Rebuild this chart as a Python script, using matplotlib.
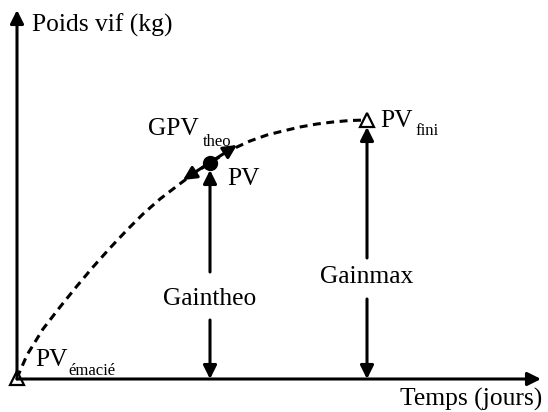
import numpy as np
import matplotlib.pyplot as plt

plt.rcParams['font.family'] = ['Liberation Serif', 'DejaVu Serif']

# --- schematic weight curve (time, live weight) ---
curve_t = [0, 10, 26, 43, 60, 76, 93, 110, 126, 143, 160, 176, 193, 210,
           220, 233, 250, 266, 283, 300, 316, 333, 350]
curve_pv = [1, 24, 50, 72, 93, 112, 131, 149, 165, 180, 193, 205, 216, 227,
            232, 238, 244, 248, 252, 255, 257, 258.5, 259]

t_emacie, pv_emacie = 0, 1
t_pv, pv_pv = 193, 216          # current weight PV
t_fini, pv_fini = 350, 259      # final weight PV_fini
tangent_t = [166, 220]          # GPV_theo tangent arrow
tangent_pv = [199, 234]

t_axis_end, pv_axis_end = 524, 369

fig = plt.figure(figsize=(5.48, 4.12), dpi=100)
ax = fig.add_axes([0, 0, 1, 1])
ax.set_xlim(-17, 531)
ax.set_ylim(-33, 379)
ax.axis('off')

lw = 2.2
head = dict(arrowstyle='-|>', color='black', lw=lw, mutation_scale=20,
            shrinkA=0, shrinkB=0)

# axes with arrows
ax.annotate('', xy=(0, pv_axis_end), xytext=(0, 0), arrowprops=head)
ax.annotate('', xy=(t_axis_end, 0), xytext=(0, 0), arrowprops=head)

# dashed growth curve
ax.plot(curve_t, curve_pv, color='black', lw=lw, linestyle=(0, (2.6, 1.8)))

# tangent double arrow at PV
ax.annotate('', xy=(tangent_t[1], tangent_pv[1]), xytext=(tangent_t[0], tangent_pv[0]),
            arrowprops=dict(arrowstyle='<|-|>', color='black', lw=lw,
                            mutation_scale=20, shrinkA=0, shrinkB=0))
ax.plot([t_pv], [pv_pv], 'o', color='black', markersize=10)

# open triangles
ax.plot([t_emacie, t_fini], [pv_emacie, pv_fini], '^', mfc='white', mec='black',
        mew=1.6, markersize=10)

# Gaintheo arrows
ax.annotate('', xy=(t_pv, pv_pv - 7), xytext=(t_pv, 107), arrowprops=head)
ax.annotate('', xy=(t_pv, 0), xytext=(t_pv, 59), arrowprops=head)
ax.text(t_pv, 80, 'Gaintheo', ha='center', va='center', fontsize=18.4)

# Gainmax arrows
ax.annotate('', xy=(t_fini, pv_fini - 7), xytext=(t_fini, 121), arrowprops=head)
ax.annotate('', xy=(t_fini, 0), xytext=(t_fini, 80), arrowprops=head)
ax.text(t_fini, 102, 'Gainmax', ha='center', va='center', fontsize=18.4)

# labels
big, small = 18.4, 12
ax.text(15, 354, 'Poids vif (kg)', ha='left', va='center', fontsize=big)
ax.text(383, -20, 'Temps (jours)', ha='left', va='center', fontsize=big)

ax.text(18, 13, 'PV', ha='left', va='baseline', fontsize=big)
ax.text(51, 4, 'émacié', ha='left', va='baseline', fontsize=small)

ax.text(210, 194, 'PV', ha='left', va='baseline', fontsize=big)

ax.text(131, 244, 'GPV', ha='left', va='baseline', fontsize=big)
ax.text(186, 233, 'theo', ha='left', va='baseline', fontsize=small)

ax.text(363, 252, 'PV', ha='left', va='baseline', fontsize=big)
ax.text(398, 244, 'fini', ha='left', va='baseline', fontsize=small)

fig.savefig('out.png', dpi=100)
